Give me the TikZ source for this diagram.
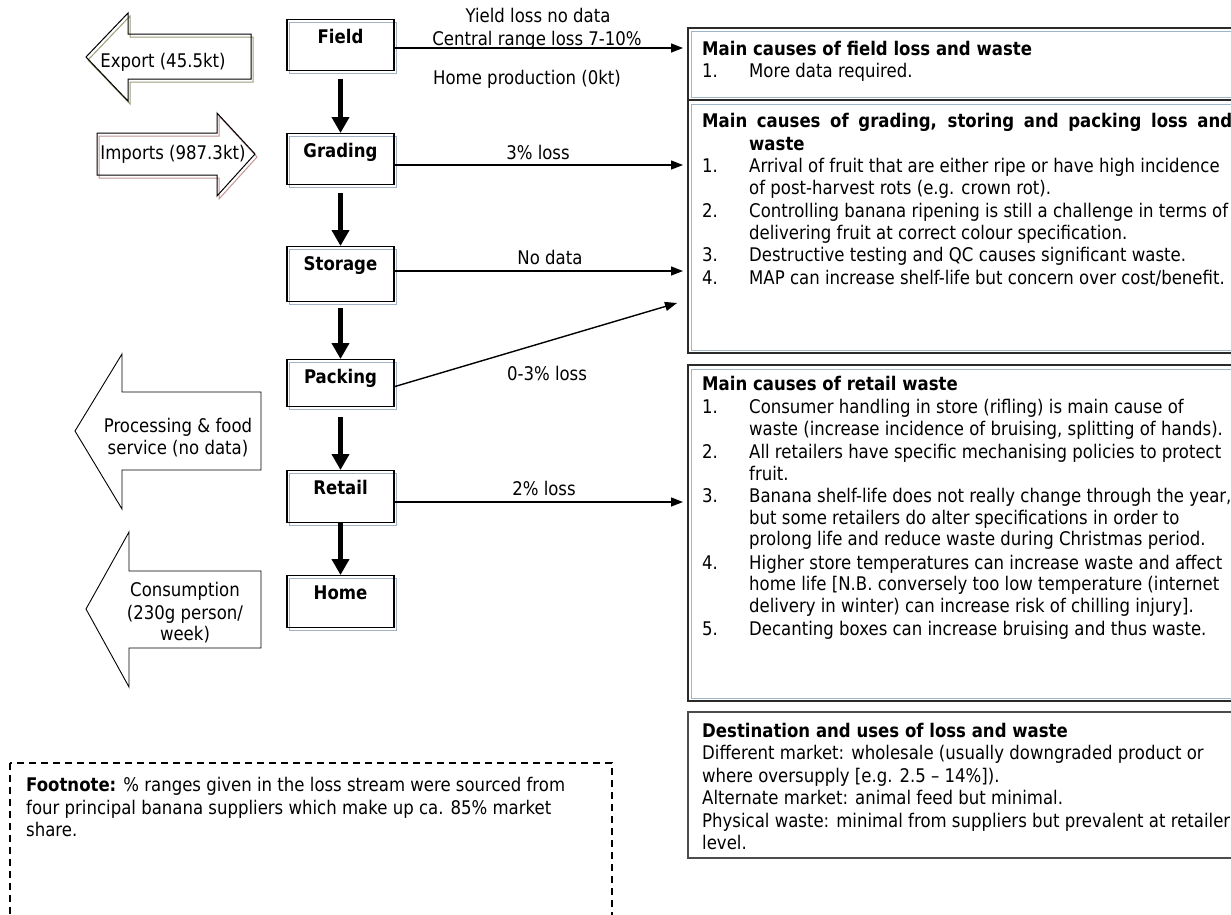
\documentclass[tikz,border=0pt]{standalone}
\usepackage{fontspec}
\setmainfont{DejaVu Sans}[FakeStretch=0.88]
\usetikzlibrary{arrows.meta,shadows}

\newcommand\bodysize{\fontsize{18.8}{22}\selectfont}

\definecolor{stageblue}{HTML}{A4B2C8}
\definecolor{frameblue}{HTML}{9FB6C8}
\definecolor{frameline}{HTML}{2A2A2A}
\definecolor{exportshade}{HTML}{9E9E7A}
\definecolor{importshade}{HTML}{C49494}

\tikzset{
  stage/.style={draw=black, line width=1.2pt, rectangle, anchor=north,
    inner xsep=0pt, inner ysep=4pt, minimum width=107pt,
    text height=20pt, text depth=23pt, font=\bodysize\bfseries,
    copy shadow={shadow xshift=2pt, shadow yshift=-3pt, draw=stageblue,
      fill=none, opacity=1, line width=1pt}},
  flow/.style={line width=5.5pt, -{Triangle[length=16pt,width=17pt]}},
  loss/.style={line width=1.4pt, -{Triangle[length=12pt,width=9pt]}},
  lbl/.style={inner sep=0pt, text height=17pt, text depth=3pt, font=\bodysize},
  ln/.style={lbl, anchor=west},
  hd/.style={ln, font=\bodysize\bfseries},
  block/.style={draw=black, line width=1pt, line join=miter},
  frame/.style={draw=frameline, line width=1.4pt},
  frameinner/.style={draw=frameblue, line width=1pt},
  notebox/.style={draw=black, line width=1.3pt, dash pattern=on 7pt off 5pt}
}

\begin{document}
\begin{tikzpicture}[x=1pt, y=-1pt, font=\bodysize]
\useasboundingbox (0,0) rectangle (1231,914);
\fill[white] (0,0) rectangle (1231,914);
\clip (0,0) rectangle (1231,914);

% ---- supply chain stages ----
\node[stage] (field) at (340.5,19) {Field};
\node[stage] (grading) at (340.5,133) {Grading};
\node[stage, text depth=27pt] (storage) at (340.5,246) {Storage};
\node[stage, text depth=19pt] (packing) at (340.5,359) {Packing};
\node[stage, text depth=24pt] (retail) at (340.5,470) {Retail};
\node[stage, text depth=24pt] (home) at (340.5,575) {Home};

\draw[flow] ([yshift=-8pt]field.south) -- (grading.north);
\draw[flow] ([yshift=-8pt]grading.south) -- (storage.north);
\draw[flow] ([yshift=-6pt]storage.south) -- (packing.north);
\draw[flow] ([yshift=-10pt]packing.south) -- (retail.north);
\draw[flow] (retail.south) -- (home.north);

% ---- loss streams ----
\coordinate (fieldtip) at (683,48);
\coordinate (gradingtip) at (683,165);
\coordinate (storagetip) at (683,271);
\coordinate (packingtip) at (677,303);
\coordinate (retailtip) at (683,502);

\draw[loss] (fieldtip -| field.east) -- (fieldtip);
\draw[loss] (gradingtip -| grading.east) -- (gradingtip);
\draw[loss] (storagetip -| storage.east) -- (storagetip);
\draw[loss] ([yshift=-3.5pt]packing.east) -- (packingtip);
\draw[loss] (retailtip -| retail.east) -- (retailtip);

\node[lbl] (yield) at (538,15) {Yield loss no data};
\node[lbl] (central) at (537,38) {Central range loss 7-10\%};
\node[lbl] (homeprod) at (527,77) {Home production (0kt)};
\node[lbl] (gradloss) at (538,152) {3\% loss};
\node[lbl] (storloss) at (550,257) {No data};
\node[lbl] (packloss) at (547,373) {0-3\% loss};
\node[lbl] (retloss) at (544,488) {2\% loss};

% ---- trade and outflow block arrows ----
\draw[block, draw=exportshade, shift={(2,3)}]
  (86,57) -- (128,13) -- (128,34) -- (251,34) -- (251,79) -- (128,79) -- (128,101) -- cycle;
\draw[block]
  (86,57) -- (128,13) -- (128,34) -- (251,34) -- (251,79) -- (128,79) -- (128,101) -- cycle;
\node[lbl] (export) at (163,60) {Export (45.5kt)};

\draw[block, draw=importshade, shift={(2,3)}]
  (97,133) -- (217,133) -- (217,113) -- (255,154) -- (217,196) -- (217,175) -- (97,175) -- cycle;
\draw[block]
  (97,133) -- (217,133) -- (217,113) -- (255,154) -- (217,196) -- (217,175) -- (97,175) -- cycle;
\node[lbl] (imports) at (173,152) {Imports (987.3kt)};

\draw[block, line width=0.9pt]
  (75,431) -- (122,354) -- (122,392) -- (261,392) -- (261,470) -- (122,470) -- (122,509) -- cycle;
\node[lbl] (proc1) at (178,425) {Processing \& food};
\node[lbl] (proc2) at (178,447) {service (no data)};

\draw[block, line width=0.9pt]
  (86,609) -- (129,532) -- (129,571) -- (261,571) -- (261,648) -- (129,648) -- (129,687) -- cycle;
\node[lbl] (cons1) at (185,589) {Consumption};
\node[lbl] (cons2) at (185,612) {(230g person/};
\node[lbl] (cons3) at (185,633) {week)};

% ---- cause panels ----
\draw[frame] (688,28) rectangle (1240,100);
\draw[frameinner] (691,31.5) rectangle (1240,97);
\node[hd] (fieldhead) at (702,48) {Main causes of field loss and waste};
\node[ln] (f1n) at (702,70) {1.};
\node[ln] (f1) at (749,70) {More data required.};

\draw[frame] (688,100) rectangle (1240,353);
\draw[frameinner] (691,104) rectangle (1240,350);
\node[hd] (gsphead) at (702,120)
  {\makebox[530pt][s]{Main causes of grading, storing and packing loss and}};
\node[hd] (gsphead2) at (749,143) {waste};
\node[ln] (g1n) at (702,165) {1.};
\node[ln] (g1a) at (749,165) {Arrival of fruit that are either ripe or have high incidence};
\node[ln] (g1b) at (749,187) {of post-harvest rots (e.g. crown rot).};
\node[ln] (g2n) at (702,210) {2.};
\node[ln] (g2a) at (749,210) {Controlling banana ripening is still a challenge in terms of};
\node[ln] (g2b) at (749,232) {delivering fruit at correct colour specification.};
\node[ln] (g3n) at (702,254) {3.};
\node[ln] (g3a) at (749,254) {Destructive testing and QC causes significant waste.};
\node[ln] (g4n) at (702,277) {4.};
\node[ln] (g4a) at (749,277) {MAP can increase shelf-life but concern over cost/benefit.};

\draw[frame] (688,365) rectangle (1240,701);
\draw[frameinner] (691,369) rectangle (1240,698);
\node[hd] (rethead) at (702,383) {Main causes of retail waste};
\node[ln] (r1n) at (702,406) {1.};
\node[ln] (r1a) at (749,406) {Consumer handling in store (rifling) is main cause of};
\node[ln] (r1b) at (749,428) {waste (increase incidence of bruising, splitting of hands).};
\node[ln] (r2n) at (702,451) {2.};
\node[ln] (r2a) at (749,451) {All retailers have specific mechanising policies to protect};
\node[ln] (r2b) at (749,473) {fruit.};
\node[ln] (r3n) at (702,495) {3.};
\node[ln] (r3a) at (749,495) {Banana shelf-life does not really change through the year,};
\node[ln] (r3b) at (749,517) {but some retailers do alter specifications in order to};
\node[ln] (r3c) at (749,538) {prolong life and reduce waste during Christmas period.};
\node[ln] (r4n) at (702,562) {4.};
\node[ln] (r4a) at (749,562) {Higher store temperatures can increase waste and affect};
\node[ln] (r4b) at (749,583) {home life [N.B. conversely too low temperature (internet};
\node[ln] (r4c) at (749,605) {delivery in winter) can increase risk of chilling injury].};
\node[ln] (r5n) at (702,628) {5.};
\node[ln] (r5a) at (749,628) {Decanting boxes can increase bruising and thus waste.};

\draw[frame, draw=black!70] (688,712) rectangle (1240,858);
\node[hd] (desthead) at (702,730) {Destination and uses of loss and waste};
\node[ln] (d1) at (702,752) {Different market: wholesale (usually downgraded product or};
\node[ln] (d2) at (702,775) {where oversupply [e.g. 2.5 – 14\%]).};
\node[ln] (d3) at (702,797) {Alternate market: animal feed but minimal.};
\node[ln] (d4) at (702,820) {Physical waste: minimal from suppliers but prevalent at retailer};
\node[ln] (d5) at (702,842) {level.};

% ---- footnote ----
\draw[notebox] (10,763) rectangle (612,930);
\node[ln] (fn1) at (26,784) {\textbf{Footnote:} \% ranges given in the loss stream were sourced from};
\node[ln] (fn2) at (26,807) {four principal banana suppliers which make up ca. 85\% market};
\node[ln] (fn3) at (26,829) {share.};
\end{tikzpicture}
\end{document}
